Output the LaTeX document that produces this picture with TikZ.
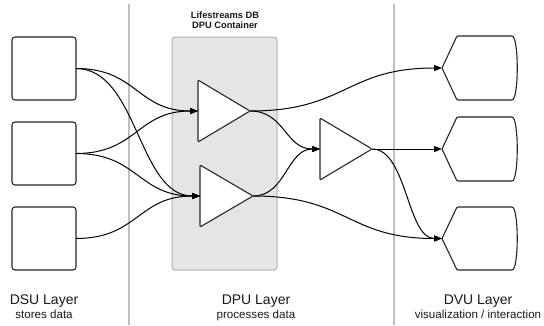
\documentclass[tikz,border=0pt]{standalone}
\usepackage{fontspec}
\setmainfont{Liberation Sans}
\usetikzlibrary{arrows.meta}
\begin{document}
\begin{tikzpicture}[x=1pt,y=-1pt,
  helper/.style={inner sep=0pt, outer sep=0pt},
  dsu/.style={helper, draw=black!85, line width=1.1pt, rounded corners=3pt, fill=white, minimum width=64pt, minimum height=63pt},
  shapeln/.style={draw=black!85, line width=1.1pt, fill=white, line join=round, rounded corners=1pt},
  conn/.style={line width=1pt, black, -{Triangle[length=8pt,width=6pt]}},
  sepline/.style={line width=2pt, draw=black!25},
  container/.style={helper, draw=black!30, line width=1pt, fill=black!10, rounded corners=3pt, minimum width=105pt, minimum height=233pt},
  ttl/.style={font=\fontsize{9.3}{11}\selectfont\bfseries, text=black!90, anchor=base, inner sep=0pt},
  lay/.style={font=\fontsize{14}{16}\selectfont, text=black!90, anchor=base, inner sep=0pt},
  sub/.style={font=\fontsize{11.6}{14}\selectfont, text=black!90, anchor=base, inner sep=0pt}
]
\useasboundingbox (0,0) rectangle (544,325);

% container and separators
\node[container] (cont) at (224.5,153.5) {};
\draw[sepline] (129,4) -- (129,325);
\draw[sepline] (394,4) -- (394,325);

\node[ttl] (ttlA) at (225,18.5) {Lifestreams DB};
\node[ttl] (ttlB) at (225,28.5) {DPU Container};

% DSU boxes
\node[dsu] (d1) at (44,68.5) {};
\node[dsu] (d2) at (44,153.5) {};
\node[dsu] (d3) at (44,238.5) {};

% DPU triangles (helper boxes + outlines)
\node[helper, minimum width=52pt, minimum height=62pt] (t1) at (224,111) {};
\node[helper, minimum width=53pt, minimum height=62pt] (t2) at (226.5,196) {};
\node[helper, minimum width=52pt, minimum height=62pt] (t3) at (346,149) {};
\foreach \t in {t1,t2,t3}
  \draw[shapeln] (\t.north west) -- (\t.east) -- (\t.south west) -- cycle;

% DVU display shapes
\node[helper, minimum width=75pt, minimum height=64pt] (v1) at (479.5,68) {};
\node[helper, minimum width=75pt, minimum height=64pt] (v2) at (479.5,149) {};
\node[helper, minimum width=75pt, minimum height=63pt] (v3) at (479.5,238.5) {};
\foreach \v in {v1,v2,v3}
  \draw[shapeln] (\v.west) -- ([xshift=15pt]\v.north west) -- ([xshift=-6pt]\v.north east)
    .. controls ([xshift=2pt]\v.north east) and ([xshift=2pt]\v.south east) .. ([xshift=-6pt]\v.south east)
    -- ([xshift=15pt]\v.south west) -- cycle;

% connectors DSU -> DPU
\draw[conn] (d1.east) to[out=0,in=180,out distance=61pt,in distance=61pt] (t1.west);
\draw[conn] (d1.east) to[out=0,in=180,out distance=62pt,in distance=62pt] (t2.west);
\draw[conn] (d2.east) to[out=0,in=180,out distance=61pt,in distance=61pt] (t1.west);
\draw[conn] (d2.east) to[out=0,in=180,out distance=62pt,in distance=62pt] (t2.west);
\draw[conn] (d3.east) to[out=0,in=180,out distance=62pt,in distance=62pt] (t2.west);

% DPU internal and to DVU
\draw[conn] (t1.east) to[out=0,in=180,out distance=96pt,in distance=96pt] (v1.west);
\draw[conn] (t1.east) to[out=0,in=180,out distance=35pt,in distance=35pt] (t3.west);
\draw[conn] (t2.east) to[out=0,in=180,out distance=33pt,in distance=33pt] (t3.west);
\draw[conn] (t2.east) to[out=0,in=180,out distance=95pt,in distance=95pt] (v3.west);
\draw[conn] (t3.east) -- (v2.west);
\draw[conn] (t3.east) to[out=0,in=180,out distance=35pt,in distance=35pt] (v3.west);

% layer labels
\node[lay] (dsuL) at (44,304) {DSU Layer};
\node[sub] (dsuS) at (44,318.3) {stores data};
\node[lay] (dpuL) at (256,304) {DPU Layer};
\node[sub] (dpuS) at (256,318.3) {processes data};
\node[lay] (dvuL) at (478,304) {DVU Layer};
\node[sub] (dvuS) at (478,318.3) {visualization / interaction};
\end{tikzpicture}
\end{document}
